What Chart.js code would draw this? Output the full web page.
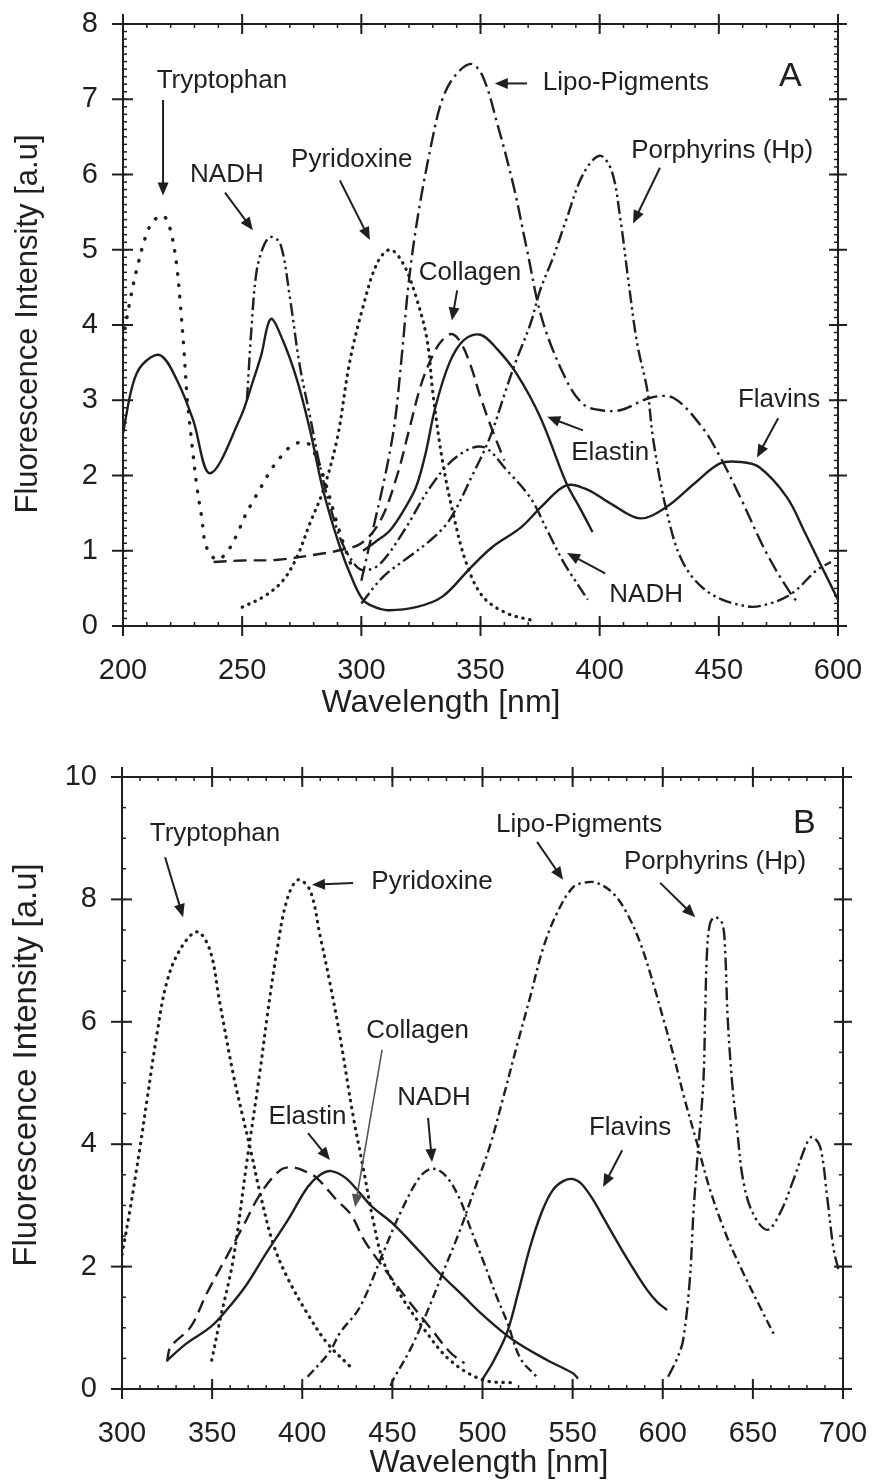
<!DOCTYPE html>
<html><head><meta charset="utf-8">
<script src="https://cdn.jsdelivr.net/npm/chart.js@4"></script>
<style>html,body{margin:0;padding:0;background:#fff;}canvas{display:block;}</style>
</head><body>
<canvas id="cA" width="875" height="740"></canvas>
<canvas id="cB" width="875" height="741"></canvas>
<script>
// ---------- Panel A (excitation) ----------
const aXTickValues = [200, 250, 300, 350, 400, 450, 500];
const aXTickLabels = ["200", "250", "300", "350", "400", "450", "600"];
const aYTickValues = [0, 1, 2, 3, 4, 5, 6, 7, 8];

const aTrpX = [200,203,206,210,213,217,220,222.5,224,225.5,227,229,231,233,235,239.5,244,248,251,254,258,262,266,271,277,281,285,289,293,297];
const aTrpY = [3.8,4.33,4.77,5.22,5.39,5.45,5.25,4.8,4.3,3.7,3.0,2.4,1.85,1.45,1.05,0.88,1.0,1.23,1.45,1.63,1.85,2.07,2.24,2.4,2.44,2.25,1.9,1.45,1.05,0.7];

const aPyrX = [250,259,267,273,278.5,284,290,295,300.7,306.6,312,317.5,323,327.6,330,334,338.5,344,351,361,371];
const aPyrY = [0.25,0.39,0.6,0.92,1.37,1.8,2.51,3.49,4.24,4.82,5.0,4.82,4.37,3.8,3.1,2.2,1.5,0.84,0.39,0.17,0.08];

const aNadhX = [252,254,256,259,262,266,270,274,278.5,283,287,292,298,302,308,318,329,340,351,361,371,378,385,395];
const aNadhY = [3.0,4.0,4.7,5.05,5.17,5.08,4.37,3.49,2.78,2.07,1.58,1.1,0.79,0.74,0.83,1.27,1.85,2.25,2.38,2.07,1.7,1.27,0.84,0.35];

const aColX = [238,250,265,283,290,300,308,315,320,325,330,334,338,342,346,350,355,360];
const aColY = [0.85,0.87,0.88,0.96,1.0,1.1,1.4,2.0,2.6,3.2,3.6,3.8,3.88,3.75,3.45,3.04,2.6,2.2];

const aElaX = [300.7,306,312,318,323,327,331,337,343,350,357,365,375,386,392,397];
const aElaY = [1.0,1.12,1.27,1.55,1.85,2.3,2.9,3.5,3.8,3.87,3.68,3.36,2.78,1.9,1.55,1.25];

const aFlaX = [200,204,208,215.5,222.6,229.4,236.5,249,254.5,258,262,267,273,278.5,284,291,296.5,300.7,305,311,323,334,346,355,367,376,386,395,405,417,428,440,450.5,459,467,478.6,486,492.5,500];
const aFlaY = [2.56,3.2,3.47,3.6,3.27,2.74,2.03,2.75,3.25,3.6,4.08,3.8,3.27,2.6,1.8,1.05,0.6,0.35,0.26,0.21,0.25,0.39,0.78,1.05,1.31,1.6,1.87,1.81,1.62,1.43,1.58,1.9,2.16,2.18,2.11,1.71,1.25,0.83,0.35];

const aLipX = [300,305,310,314,317,320,324,330,334,339,346,351,357,364,369.5,376,386,393,400,409,421,431,443,450.5,459,470,481,484];
const aLipY = [0.6,1.3,2.0,2.7,3.6,4.6,5.5,6.5,7.0,7.3,7.47,7.3,6.68,5.83,5.0,4.06,3.27,2.95,2.87,2.87,3.03,3.03,2.64,2.25,1.71,0.97,0.39,0.3];

const aPorX = [300,309,320,329,337,347,354,361,365,371,375,380.5,386,393,400,405,408.6,412,415.7,420,422.5,428,435,446,462,471.5,481,491,497];
const aPorY = [0.3,0.65,0.92,1.14,1.41,2.03,2.51,3.17,3.53,4.02,4.46,4.9,5.4,6.0,6.25,6.05,5.43,4.6,3.76,3.13,2.47,1.54,0.84,0.44,0.26,0.3,0.44,0.74,0.85];

// ---------- Panel B (emission) ----------
const bXTickValues = [300, 350, 400, 450, 500, 550, 600, 650, 700];
const bYTickValues = [0, 2, 4, 6, 8, 10];

const bTrpX = [300,304.4,310,314,319.4,324.7,332,341.6,348.8,354,361.6,367,371,376.6,383.8,391.6,402.7,413.8,426.5];
const bTrpY = [2.2,2.92,3.95,4.75,5.8,6.63,7.17,7.47,7.17,6.35,5.16,4.45,3.95,3.2,2.38,1.83,1.24,0.75,0.37];

const bPyrX = [349.8,354.4,361.6,369.4,376.6,380.5,386,391.6,397.7,404.3,410,415.4,421,428,433.7,439.3,444.8,454,467,482,500,517];
const bPyrY = [0.47,1.13,2.1,3.74,5.2,6.08,7.17,8.0,8.32,8.15,7.39,6.63,5.75,4.5,3.63,2.76,2.1,1.56,1.0,0.47,0.15,0.1];

const bColX = [325,327,338,347,358,367,377,388,395,402,408,419,427,435,449,460,471,482,490];
const bColY = [0.45,0.69,1.01,1.56,2.16,2.65,3.2,3.58,3.62,3.55,3.45,3.09,2.85,2.4,1.83,1.4,1.0,0.6,0.42];

const bElaX = [325,336,349,358,369,380,392,403,410,416,424,432,439,450,465,476,490,499,517,536,550,553];
const bElaY = [0.47,0.75,1.01,1.29,1.7,2.22,2.76,3.3,3.5,3.56,3.45,3.2,2.97,2.71,2.25,1.9,1.5,1.24,0.8,0.47,0.26,0.17];

const bNadhX = [403,415,421,432,444.8,454.3,465.4,472.6,480,487.6,493,500.3,508,513.6,521,530];
const bNadhY = [0.2,0.6,0.92,1.34,2.22,2.87,3.47,3.6,3.47,3.09,2.65,2.1,1.5,1.1,0.5,0.2];

const bFlaX = [499.8,506,513.6,520,526.4,533,539,545,550.3,555,561.4,568,576.4,584,591.3,597,602.4];
const bFlaY = [0.15,0.45,0.92,1.6,2.32,2.9,3.25,3.4,3.43,3.35,3.09,2.75,2.32,1.95,1.62,1.42,1.29];

const bLipX = [449,450.4,459.8,469,478,487.6,494.8,504,511.4,519,526.4,533.6,541.4,550.3,558,563.6,572.5,580,587.5,594.7,600,606,612,619,626.3,635.7,644.6,654,662.4];
const bLipY = [0.05,0.15,0.64,1.24,1.9,2.6,3.2,3.96,4.75,5.6,6.4,7.2,7.78,8.2,8.28,8.27,8.1,7.78,7.29,6.63,6.08,5.45,4.75,4.02,3.25,2.48,1.9,1.34,0.85];

const bPorX = [603,608,611.3,615,617,619,622.5,623.5,624.6,626.3,629,633,634.6,636,638.5,641.3,644.6,650,658,665,672.4,680,683,687.4,691.2,694.6,697.5];
const bPorY = [0.2,0.5,0.8,1.78,2.87,3.69,5.0,6.08,7.17,7.61,7.71,7.61,7.17,6.08,5.0,4.23,3.41,2.87,2.6,2.87,3.41,4.02,4.12,3.95,3.14,2.32,1.94];

// ---------- styling ----------
const FONT = "'Liberation Sans', Arial, Helvetica, sans-serif";
const INK = '#1f1f1f';
const pts = (xs, ys) => xs.map((x, i) => ({x: x, y: ys[i]}));

const STY = {
  solid:   {borderDash: [], borderWidth: 2.4},
  dotS:    {borderDash: [0.5, 11], borderWidth: 3.4, borderCapStyle: 'round'},
  dotD:    {borderDash: [0.5, 6.5], borderWidth: 3.2, borderCapStyle: 'round'},
  dash:    {borderDash: [13, 7], borderWidth: 2.4},
  dashDot: {borderDash: [15, 5, 2.5, 5], borderWidth: 2.4},
  dashDotDot: {borderDash: [13, 4, 2.5, 4, 2.5, 4], borderWidth: 2.4},
  dashDotS: {borderDash: [9, 4, 2.5, 4], borderWidth: 2.4}
};
function ds(label, xs, ys, st) {
  return Object.assign({label: label, data: pts(xs, ys), borderColor: INK, fill: false,
    pointRadius: 0, tension: 0.35, borderJoinStyle: 'round'}, STY[st]);
}

function seg(ctx, a, b, c, d) { ctx.beginPath(); ctx.moveTo(a, b); ctx.lineTo(c, d); ctx.stroke(); }

const framePlugin = {
  id: 'frame',
  afterDraw(chart, args, o) {
    const {ctx, chartArea: ca, scales: {x, y}} = chart;
    ctx.save();
    ctx.strokeStyle = INK;
    ctx.lineWidth = 1.5;
    const nx = Math.round((x.max - x.min) / o.xMinor);
    for (let i = 0; i <= nx; i++) {
      const p = x.getPixelForValue(x.min + i * o.xMinor);
      seg(ctx, p, ca.bottom, p, ca.bottom - 4);
      seg(ctx, p, ca.top, p, ca.top + 4);
    }
    const ny = Math.round((y.max - y.min) / o.yMinor);
    for (let i = 0; i <= ny; i++) {
      const p = y.getPixelForValue(y.min + i * o.yMinor);
      seg(ctx, ca.left, p, ca.left + 4, p);
      seg(ctx, ca.right, p, ca.right - 4, p);
    }
    ctx.lineWidth = 2;
    ctx.strokeRect(ca.left, ca.top, ca.right - ca.left, ca.bottom - ca.top);
    for (const v of o.xMajor) {
      const p = x.getPixelForValue(v);
      seg(ctx, p, ca.bottom - 10, p, ca.bottom + 10);
      seg(ctx, p, ca.top - 10, p, ca.top + 10);
    }
    for (const v of o.yMajor) {
      const p = y.getPixelForValue(v);
      seg(ctx, ca.left - 11, p, ca.left + 10, p);
      seg(ctx, ca.right - 9, p, ca.right + 9, p);
    }
    ctx.restore();
  }
};

const notesPlugin = {
  id: 'notes',
  afterDraw(chart, args, o) {
    const {ctx, scales: {x, y}} = chart;
    ctx.save();
    for (const a of o.arrows) {
      const x1 = x.getPixelForValue(a[0]), y1 = y.getPixelForValue(a[1]);
      const x2 = x.getPixelForValue(a[2]), y2 = y.getPixelForValue(a[3]);
      const col = a[4] || INK;
      ctx.strokeStyle = col; ctx.fillStyle = col;
      ctx.lineWidth = a[4] ? 1.6 : 2;
      const ang = Math.atan2(y2 - y1, x2 - x1);
      const L = 13, W = 5.5;
      seg(ctx, x1, y1, x2 - Math.cos(ang) * (L - 2), y2 - Math.sin(ang) * (L - 2));
      ctx.beginPath();
      ctx.moveTo(x2, y2);
      ctx.lineTo(x2 - Math.cos(ang) * L - Math.sin(ang) * W, y2 - Math.sin(ang) * L + Math.cos(ang) * W);
      ctx.lineTo(x2 - Math.cos(ang) * L + Math.sin(ang) * W, y2 - Math.sin(ang) * L - Math.cos(ang) * W);
      ctx.closePath(); ctx.fill();
    }
    ctx.fillStyle = INK;
    ctx.textAlign = 'center'; ctx.textBaseline = 'middle';
    for (const t of o.labels) {
      ctx.font = (t[3] || 26) + 'px ' + FONT;
      ctx.fillText(t[0], x.getPixelForValue(t[1]), y.getPixelForValue(t[2]));
    }
    ctx.font = o.xTitle.size + 'px ' + FONT;
    ctx.fillText(o.xTitle.text, o.xTitle.cx, o.xTitle.cy);
    ctx.save();
    ctx.translate(o.yTitle.cx, o.yTitle.cy);
    ctx.rotate(-Math.PI / 2);
    ctx.font = o.yTitle.size + 'px ' + FONT;
    ctx.fillText(o.yTitle.text, 0, 0);
    ctx.restore();
    ctx.restore();
  }
};

function makeChart(id, datasets, cfg) {
  return new Chart(document.getElementById(id), {
    type: 'line',
    data: {datasets: datasets},
    plugins: [framePlugin, notesPlugin],
    options: {
      responsive: false, animation: false, devicePixelRatio: 1,
      layout: {padding: {top: cfg.top, right: cfg.right, left: 0, bottom: 0}},
      plugins: {legend: {display: false}, tooltip: {enabled: false},
        frame: cfg.frame, notes: cfg.notes},
      scales: {
        x: {type: 'linear', min: cfg.xMin, max: cfg.xMax,
          afterFit: s => { s.height = cfg.xH; s.paddingLeft = 0; s.paddingRight = 0; },
          afterBuildTicks: s => { s.ticks = cfg.xTicks.map(v => ({value: v})); },
          grid: {display: false, drawTicks: false}, border: {display: false},
          ticks: {padding: 28, color: INK, font: {family: FONT, size: 29}, maxRotation: 0,
            autoSkip: false, callback: cfg.xLabel}},
        y: {type: 'linear', min: cfg.yMin, max: cfg.yMax,
          afterFit: s => { s.width = cfg.yW; s.paddingTop = 0; s.paddingBottom = 0; },
          afterBuildTicks: s => { s.ticks = cfg.yTicks.map(v => ({value: v})); },
          grid: {display: false, drawTicks: false}, border: {display: false},
          ticks: {padding: 25, color: INK, font: {family: FONT, size: 29}, autoSkip: false,
            callback: v => String(v)}}
      }
    }
  });
}

makeChart('cA', [
  ds('Tryptophan', aTrpX, aTrpY, 'dotS'),
  ds('Pyridoxine', aPyrX, aPyrY, 'dotD'),
  ds('NADH', aNadhX, aNadhY, 'dashDotDot'),
  ds('Collagen', aColX, aColY, 'dash'),
  ds('Elastin', aElaX, aElaY, 'solid'),
  ds('Flavins', aFlaX, aFlaY, 'solid'),
  ds('Lipo-Pigments', aLipX, aLipY, 'dashDot'),
  ds('Porphyrins (Hp)', aPorX, aPorY, 'dashDotDot')
], {
  top: 24, right: 37, xH: 114, yW: 123,
  xMin: 200, xMax: 500, yMin: 0, yMax: 8,
  xTicks: aXTickValues, yTicks: aYTickValues,
  xLabel: v => aXTickLabels[aXTickValues.indexOf(v)],
  frame: {xMinor: 10, yMinor: 0.1, xMajor: aXTickValues, yMajor: aYTickValues},
  notes: {
    labels: [
      ['Tryptophan', 241.5, 7.25], ['NADH', 243.6, 5.99], ['Pyridoxine', 296, 6.19],
      ['Lipo-Pigments', 411, 7.22], ['A', 480, 7.3, 34], ['Porphyrins (Hp)', 451.4, 6.32],
      ['Collagen', 345.6, 4.69], ['Elastin', 404.4, 2.3], ['Flavins', 475.3, 3.01],
      ['NADH', 419.5, 0.41]
    ],
    arrows: [
      [216.8, 6.99, 216.8, 5.72], [242.8, 5.76, 254.5, 5.26], [291, 5.92, 303.6, 5.13],
      [369.5, 7.21, 356, 7.21], [425.3, 6.09, 414, 5.35], [340.2, 4.46, 338, 4.06],
      [393, 2.6, 378, 2.78], [474.9, 2.76, 466, 2.24], [402.3, 0.70, 386.3, 0.97]
    ],
    xTitle: {text: 'Wavelength [nm]', cx: 441, cy: 703, size: 32},
    yTitle: {text: 'Fluorescence Intensity [a.u]', cx: 28, cy: 324, size: 31}
  }
});

makeChart('cB', [
  ds('Tryptophan', bTrpX, bTrpY, 'dotD'),
  ds('Pyridoxine', bPyrX, bPyrY, 'dotD'),
  ds('Collagen', bColX, bColY, 'dash'),
  ds('Elastin', bElaX, bElaY, 'solid'),
  ds('NADH', bNadhX, bNadhY, 'dashDotS'),
  ds('Flavins', bFlaX, bFlaY, 'solid'),
  ds('Lipo-Pigments', bLipX, bLipY, 'dashDotS'),
  ds('Porphyrins (Hp)', bPorX, bPorY, 'dashDotDot')
], {
  top: 37, right: 32, xH: 92, yW: 122,
  xMin: 300, xMax: 700, yMin: 0, yMax: 10,
  xTicks: bXTickValues, yTicks: bYTickValues,
  xLabel: v => String(v),
  frame: {xMinor: 10, yMinor: 0.5, xMajor: bXTickValues, yMajor: bYTickValues},
  notes: {
    labels: [
      ['Tryptophan', 351.6, 9.07], ['Pyridoxine', 472, 8.28], ['Lipo-Pigments', 553.6, 9.22],
      ['B', 678.5, 9.23, 34], ['Porphyrins (Hp)', 629, 8.61], ['Collagen', 464, 5.85],
      ['NADH', 473.1, 4.75], ['Elastin', 402.9, 4.44], ['Flavins', 581.9, 4.26]
    ],
    arrows: [
      [323.9, 8.69, 333.9, 7.71], [428.2, 8.27, 405.4, 8.24], [530.3, 8.94, 544.7, 8.32],
      [598.6, 8.27, 618, 7.71], [444.3, 5.54, 429.3, 2.97, '#555'], [469.8, 4.43, 472, 3.71],
      [403.2, 4.18, 415.4, 3.74], [577.5, 3.9, 566.9, 3.3]
    ],
    xTitle: {text: 'Wavelength [nm]', cx: 489, cy: 723, size: 32},
    yTitle: {text: 'Fluorescence Intensity [a.u]', cx: 27, cy: 325, size: 33}
  }
});
</script>
</body></html>
